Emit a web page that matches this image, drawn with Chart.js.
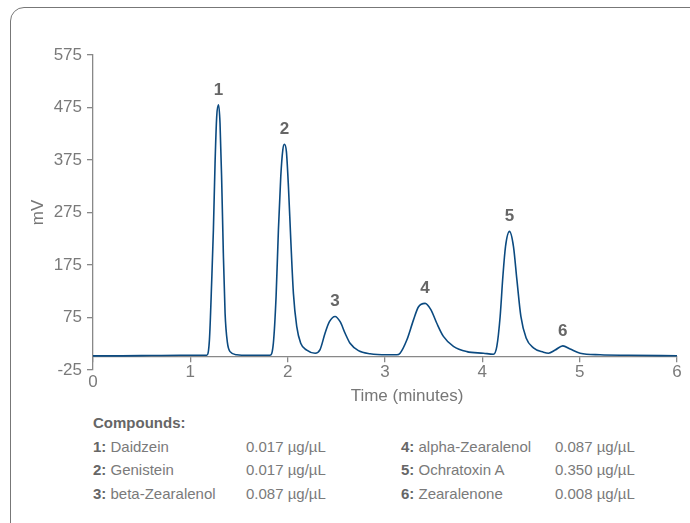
<!DOCTYPE html>
<html>
<head>
<meta charset="utf-8">
<script src="https://cdn.jsdelivr.net/npm/chart.js@4"></script>
<style>
  html, body { margin: 0; padding: 0; background: #fff; overflow: hidden; }
  body { width: 690px; height: 523px; position: relative; font-family: 'Liberation Sans', Arial, sans-serif; }
  #frame {
    position: absolute; left: 10px; top: 7px; width: 720px; height: 560px;
    border: 1.5px solid #777; border-radius: 14px; box-sizing: border-box;
  }
  #wrap { position: absolute; left: 0; top: 0; width: 690px; height: 410px; }
  #compounds {
    position: absolute; left: 93px; top: 411px;
    border-collapse: collapse; table-layout: fixed;
    font-size: 15px; line-height: 23.5px; color: #7a7a7a;
  }
  #compounds td { padding: 0; white-space: nowrap; }
  #compounds b { color: #666; }
</style>
</head>
<body>
<div id="frame"></div>
<div id="wrap"><canvas id="chart1"></canvas></div>
<table id="compounds"></table>

<script>
// CHART DATA
// -----------------------------
let times = [
  0.00, 0.30, 0.60, 0.90, 1.10, 1.168, 1.196, 1.220, 1.237, 1.254, 1.271, 1.290,
  1.305, 1.322, 1.339, 1.357, 1.381, 1.408, 1.477, 1.60, 1.75, 1.819, 1.853, 1.881,
  1.905, 1.929, 1.950, 1.966, 1.987, 2.008, 2.032, 2.059, 2.093, 2.134, 2.196, 2.282,
  2.333, 2.384, 2.429, 2.487, 2.539, 2.590, 2.641, 2.727, 2.847, 3.018, 3.121, 3.155,
  3.224, 3.292, 3.343, 3.412, 3.471, 3.532, 3.600, 3.703, 3.841, 4.012, 4.114, 4.149,
  4.183, 4.211, 4.238, 4.279, 4.320, 4.355, 4.396, 4.450, 4.525, 4.628, 4.680, 4.748,
  4.827, 4.902, 5.005, 5.211, 5.50, 6.00
];
let signal = [
  2, 2, 2.5, 3, 3, 3, 32, 147, 242, 369, 458, 480,
  445, 337, 198, 83, 27, 10, 4, 3, 3, 3, 26, 115,
  242, 343, 394, 405, 391, 324, 223, 121, 58, 26, 13, 7,
  14, 45, 67, 77, 67, 45, 26, 12, 6, 4, 4, 7,
  32, 70, 95, 102, 90, 64, 39, 20, 10, 7, 5, 20,
  77, 153, 210, 239, 210, 147, 77, 36, 17, 9, 7, 13,
  21, 15, 7, 4, 3, 2
];
let peakLabels = ['1', '2', '3', '4', '5', '6'];
let peakTimes = [1.290, 1.966, 2.487, 3.412, 4.279, 4.827];

let yTicks = [-25, 75, 175, 275, 375, 475, 575];
let xTicks = [0, 1, 2, 3, 4, 5, 6];

let compoundNames = ['Daidzein', 'Genistein', 'beta-Zearalenol', 'alpha-Zearalenol', 'Ochratoxin A', 'Zearalenone'];
let compoundConc = ['0.017 µg/µL', '0.017 µg/µL', '0.087 µg/µL', '0.087 µg/µL', '0.350 µg/µL', '0.008 µg/µL'];

// COMPOUND TABLE
// -----------------------------
let table = document.getElementById('compounds');
let html = '<colgroup><col style="width:153px"><col style="width:155px"><col style="width:154px"><col style="width:130px"></colgroup>';
html += '<tr><td colspan="4"><b>Compounds:</b></td></tr>';
for (let r = 0; r < 3; r++) {
  let a = r, b = r + 3;
  html += '<tr>' +
    '<td><b>' + (a + 1) + ':</b> ' + compoundNames[a] + '</td><td>' + compoundConc[a] + '</td>' +
    '<td><b>' + (b + 1) + ':</b> ' + compoundNames[b] + '</td><td>' + compoundConc[b] + '</td>' +
    '</tr>';
}
table.innerHTML = html;

// PLUGINS
// -----------------------------
let fontFamily = "'Liberation Sans', Arial, sans-serif";

let peakLabelPlugin = {
  id: 'peakLabels',
  afterDatasetsDraw(chart) {
    let ctx = chart.ctx;
    let x = chart.scales.x, y = chart.scales.y;
    ctx.save();
    ctx.font = 'bold 17px ' + fontFamily;
    ctx.fillStyle = '#666';
    ctx.textAlign = 'center';
    ctx.textBaseline = 'middle';
    peakTimes.forEach((t, i) => {
      let idx = times.indexOf(t);
      ctx.fillText(peakLabels[i], x.getPixelForValue(t), y.getPixelForValue(signal[idx]) - 15);
    });
    ctx.restore();
  }
};

let xTitlePlugin = {
  id: 'xTitle',
  afterDraw(chart) {
    let ctx = chart.ctx;
    let a = chart.chartArea;
    ctx.save();
    ctx.font = '17px ' + fontFamily;
    ctx.fillStyle = '#777';
    ctx.textAlign = 'center';
    ctx.textBaseline = 'alphabetic';
    ctx.fillText('Time (minutes)', (a.left + a.right) / 2 + 22, 400.5);
    ctx.restore();
  }
};

// CHART CONFIG
// -----------------------------
let chart1Data = {
  type: 'line',
  data: {
    datasets: [{
      data: times.map((t, i) => ({ x: t, y: signal[i] })),
      borderColor: '#0b4a80',
      borderWidth: 1.6,
      pointRadius: 0,
      fill: false,
      cubicInterpolationMode: 'monotone'
    }]
  },
  options: {
    responsive: true,
    maintainAspectRatio: false,
    animation: false,
    layout: { padding: { top: 55, right: 13, bottom: 40, left: 0 } },
    plugins: { legend: { display: false }, tooltip: { enabled: false } },
    scales: {
      x: {
        type: 'linear',
        position: { y: 0 },
        min: 0,
        max: 6,
        afterBuildTicks: (s) => { s.ticks = xTicks.map(v => ({ value: v })); },
        grid: { drawOnChartArea: false, drawTicks: true, tickLength: 5, color: '#888', lineWidth: 1.3 },
        border: { display: true, color: '#888', width: 1.3 },
        ticks: {
          padding: 0,
          color: '#7a7a7a',
          maxRotation: 0,
          autoSkip: false,
          font: (c) => c.index === 0 ? { family: fontFamily, size: 17, lineHeight: 0.81 } : { family: fontFamily, size: 17 },
          callback: (v) => v === 0 ? ['', '0'] : String(v)
        }
      },
      y: {
        type: 'linear',
        position: 'left',
        min: -25,
        max: 575,
        afterBuildTicks: (s) => { s.ticks = yTicks.map(v => ({ value: v })); },
        afterFit: (s) => { s.width = 93; },
        grid: { drawOnChartArea: false, drawTicks: true, tickLength: 6, color: '#888', lineWidth: 1.3 },
        border: { display: true, color: '#888', width: 1.3 },
        ticks: { padding: 5, color: '#7a7a7a', font: { family: fontFamily, size: 17 } },
        title: {
          display: true,
          text: 'mV',
          color: '#777',
          font: { family: fontFamily, size: 17 },
          padding: { top: 28, bottom: 0 }
        }
      }
    }
  },
  plugins: [peakLabelPlugin, xTitlePlugin]
};

// RENDER CHART
// -----------------------------
new Chart(document.getElementById('chart1'), chart1Data);
</script>
</body>
</html>
